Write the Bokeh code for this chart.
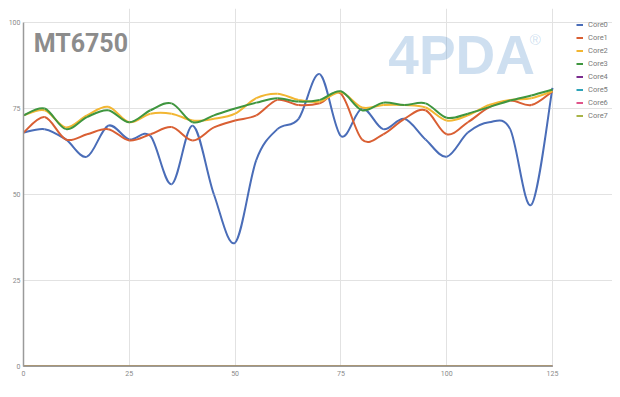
from bokeh.plotting import figure
from bokeh.models import Legend, LegendItem, Label, Range1d, FixedTicker, ColumnDataSource
from bokeh.embed import file_html
from bokeh.resources import INLINE

# ---- data ----
x_vals = [0, 5, 10, 15, 20, 25, 30, 35, 40, 45, 50, 55, 60, 65, 70, 75, 80, 85, 90, 95, 100, 105, 110, 115, 120, 125]
core0 = [68, 69, 66, 61, 70, 66, 67, 53, 70, 50, 36, 60, 69, 72, 85, 67, 75, 69, 72, 66, 61, 68, 71, 69, 47, 81]
core1 = [68, 72.5, 66, 67.5, 69, 65.7, 67.5, 69.6, 65.7, 69.5, 71.5, 73, 77.5, 76, 76.5, 79.3, 66, 67.5, 72, 74.5, 67.5, 71, 75.3, 77.3, 76, 80]
core2 = [73, 74.5, 69.5, 73, 75.5, 71, 73.5, 73.5, 71.5, 72, 73.5, 78, 79.3, 77.5, 77, 79.7, 75.3, 76, 76, 75.3, 71.5, 73, 76, 77.5, 78, 80]
core3 = [73, 75, 69, 72.5, 74.5, 71, 74.5, 76.5, 71, 73, 75, 76.7, 78, 77, 77.5, 80, 74.5, 76.7, 76, 76.5, 72.3, 73.5, 75.4, 77.3, 78.8, 80.5]
core4 = [0, 0, 0, 0, 0, 0, 0, 0, 0, 0, 0, 0, 0, 0, 0, 0, 0, 0, 0, 0, 0, 0, 0, 0, 0, 0]
core5 = [0, 0, 0, 0, 0, 0, 0, 0, 0, 0, 0, 0, 0, 0, 0, 0, 0, 0, 0, 0, 0, 0, 0, 0, 0, 0]
core6 = [0, 0, 0, 0, 0, 0, 0, 0, 0, 0, 0, 0, 0, 0, 0, 0, 0, 0, 0, 0, 0, 0, 0, 0, 0, 0]
core7 = [0, 0, 0, 0, 0, 0, 0, 0, 0, 0, 0, 0, 0, 0, 0, 0, 0, 0, 0, 0, 0, 0, 0, 0, 0, 0]
series_names = ["Core0", "Core1", "Core2", "Core3", "Core4", "Core5", "Core6", "Core7"]
series_values = [core0, core1, core2, core3, core4, core5, core6, core7]
x_ticks = [0, 25, 50, 75, 100, 125]
y_ticks = [0, 25, 50, 75, 100]
x_min, x_max = 0, 125
y_min, y_max = 0, 100
title_text = "MT6750"

colors = ["#4a6db8", "#d95f33", "#f2b632", "#3f963f", "#7b2d8f", "#2ea3b8", "#e0558a", "#a8b448"]


def smooth_segments(xs, ys):
    """Cardinal-spline smoothing expressed as cubic Bezier segments."""
    n = len(xs)
    d = dict(x0=[], y0=[], x1=[], y1=[], cx0=[], cy0=[], cx1=[], cy1=[])
    for i in range(n - 1):
        xp, yp = (xs[i - 1], ys[i - 1]) if i > 0 else (xs[i], ys[i])
        xn, yn = (xs[i + 2], ys[i + 2]) if i + 2 < n else (xs[i + 1], ys[i + 1])
        d["x0"].append(xs[i]); d["y0"].append(ys[i])
        d["x1"].append(xs[i + 1]); d["y1"].append(ys[i + 1])
        d["cx0"].append(xs[i] + (xs[i + 1] - xp) / 6.0)
        d["cy0"].append(ys[i] + (ys[i + 1] - yp) / 6.0)
        d["cx1"].append(xs[i + 1] - (xn - xs[i]) / 6.0)
        d["cy1"].append(ys[i + 1] - (yn - ys[i]) / 6.0)
    return d


# frame extends right/up so the legend sits inside it; axes & grids bounded to data area
p = figure(width=612, height=381, output_backend="svg", toolbar_location=None,
           x_range=Range1d(x_min, 139.18), y_range=Range1d(y_min, 104.07),
           min_border_left=23, min_border_right=0, min_border_top=8, min_border_bottom=15)
p.outline_line_color = None
p.background_fill_color = "white"
p.border_fill_color = "white"

# axes
for ax in (p.xaxis[0], p.yaxis[0]):
    ax.major_tick_line_color = None
    ax.minor_tick_line_color = None
    ax.major_tick_out = 0
    ax.major_tick_in = 0
    ax.minor_tick_out = 0
    ax.major_label_text_font = "Roboto"
    ax.major_label_text_font_size = "7px"
    ax.major_label_text_color = "#8a8a8a"
p.xaxis[0].ticker = FixedTicker(ticks=x_ticks)
p.yaxis[0].ticker = FixedTicker(ticks=y_ticks)
p.xaxis[0].bounds = (x_min, x_max)
p.yaxis[0].bounds = (y_min, y_max)
p.xaxis[0].major_label_standoff = 4
p.yaxis[0].major_label_standoff = 3
p.yaxis[0].axis_line_color = "#9a9a9a"
p.yaxis[0].axis_line_width = 1.5
p.xaxis[0].axis_line_color = "#9a9a9a"
p.xgrid.grid_line_color = "#e2e2e2"
p.ygrid.grid_line_color = "#e2e2e2"
p.xgrid.ticker = FixedTicker(ticks=x_ticks)
p.ygrid.ticker = FixedTicker(ticks=y_ticks)
p.xgrid.bounds = (y_min, y_max)
p.ygrid.bounds = (x_min, x_max)

# watermark
p.add_layout(Label(x=86.2, y=81.4, text="4PDA", text_font="Liberation Sans",
                   text_font_style="bold", text_font_size="55px",
                   text_color="#5e95cc", text_alpha=0.3, level="underlay"))
p.add_layout(Label(x=119.6, y=92.6, text="®", text_font="Liberation Sans",
                   text_font_size="15px", text_color="#5e95cc", text_alpha=0.3, level="underlay"))

# title
p.add_layout(Label(x=2.4, y=89.7, text=title_text, text_font="Roboto",
                   text_font_style="bold", text_font_size="25px", text_color="#8c8c8c"))

items = []
for name, vals, col in zip(series_names, series_values, colors):
    if max(vals) == min(vals):
        r = p.line(x_vals, vals, line_color=col, line_width=2)
    else:
        src = ColumnDataSource(smooth_segments(x_vals, vals))
        r = p.bezier(x0="x0", y0="y0", x1="x1", y1="y1", cx0="cx0", cy0="cy0",
                     cx1="cx1", cy1="cy1", source=src, line_color=col, line_width=2)
    items.append(LegendItem(label=name, renderers=[r]))

legend = Legend(items=items, location=(553, 244), orientation="vertical",
                glyph_width=7, glyph_height=13, label_height=13, spacing=0,
                label_standoff=5, padding=0, margin=0,
                label_text_font="Roboto", label_text_font_size="7.5px",
                label_text_color="#7a7a7a", border_line_color=None,
                background_fill_alpha=0)
p.add_layout(legend, "center")

open("out.html", "w").write(file_html(p, INLINE))
